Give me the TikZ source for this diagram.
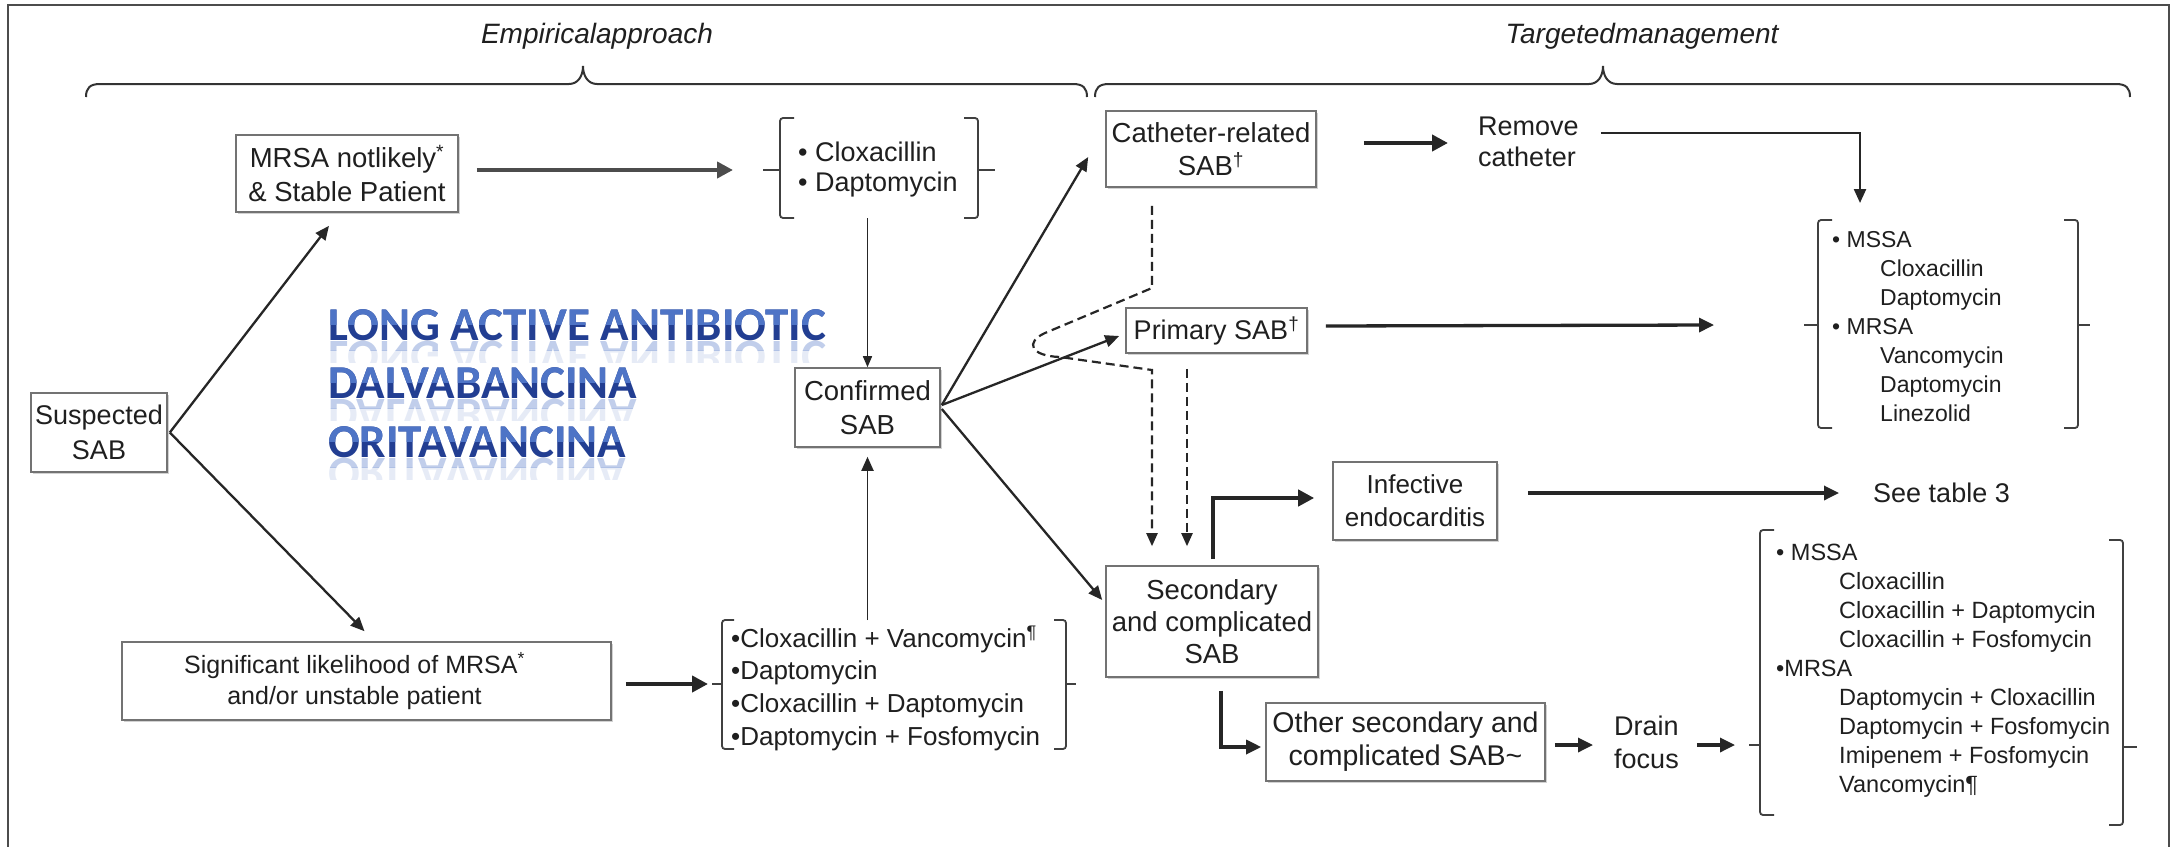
\documentclass[tikz,border=0pt]{standalone}
\usepackage{graphicx}
\usepackage{fontspec}
\setmainfont{Liberation Sans}
\newfontfamily\bannerfont{Carlito}
\usetikzlibrary{arrows.meta,calc,shadows}

\newcommand\txtsize[2]{\fontsize{#1}{#2}\selectfont}
\definecolor{bannerblue}{RGB}{34,62,146}
\definecolor{bannerlight}{RGB}{78,116,198}

\tikzset{
  box/.style={draw=black!55, line width=1.6pt, fill=white, inner sep=0pt,
    align=center, text=black!88,
    drop shadow={shadow xshift=1.5pt, shadow yshift=-2pt, fill=black!35, opacity=.5}},
  plain/.style={inner sep=0pt, text=black!88},
  head/.style={inner sep=0pt, text=black!88, font=\itshape\txtsize{28}{32}},
  arr/.style={draw=black!85, line width=2.3pt, -{Triangle[length=14pt,width=12pt]}},
  medarr/.style={draw=black!85, line width=3.3pt, -{Triangle[length=15pt,width=14pt]}},
  heavyarr/.style={draw=black!85, line width=4.6pt, -{Triangle[length=16pt,width=16pt]}},
  thinarr/.style={draw=black!85, line width=1.5pt, -{Triangle[length=11pt,width=9pt]}},
  dasharr/.style={draw=black!85, line width=2.2pt, dash pattern=on 9pt off 5pt,
    -{Triangle[length=13pt,width=11pt]}},
  brk/.style={draw=black!75, line width=1.8pt, rounded corners=3pt},
  brace/.style={draw=black!80, line width=2pt},
  listtxt/.style={inner sep=0pt, align=left, anchor=north west, text=black!88},
  banner/.style={inner sep=0pt, anchor=base west, font=\bannerfont\bfseries\txtsize{47}{47}},
}

% one line of the glossy blue banner, with a lighter upper half and a faded reflection
\newcommand\bannerline[3]{%
  \node[banner, text=bannerblue] (#1) at (328,#2) {#3};
  \begin{scope}
    \clip (320,#2-33) rectangle (900,#2-16);
    \node[banner, text=bannerlight] at (328,#2) {#3};
  \end{scope}
  \begin{scope}
    \clip (320,#2+1) rectangle (900,#2+10);
    \node[banner, text=bannerlight, opacity=.35] at (328,#2+1) {\scalebox{1}[-1]{#3}};
  \end{scope}
  \begin{scope}
    \clip (320,#2+10) rectangle (900,#2+22);
    \node[banner, text=bannerlight, opacity=.14] at (328,#2+1) {\scalebox{1}[-1]{#3}};
  \end{scope}
}

\begin{document}
\begin{tikzpicture}[x=1pt,y=-1pt]
\useasboundingbox (0,0) rectangle (2176,846);
\fill[white] (0,0) rectangle (2176,846);

% outer frame
\draw[draw=black!70, line width=2.5pt] (8,870) -- (8,5) -- (2169,5) -- (2169,870);

% section headings and braces
\node[head] (emp) at (597,36) {Empiricalapproach};
\node[head] (tar) at (1642,36) {Targetedmanagement};
\draw[brace] (86,97) .. controls (86,88) and (90,84) .. (100,84) -- (569,84)
  .. controls (578,84) and (583,76) .. (583,66)
  .. controls (583,76) and (588,84) .. (597,84) -- (1073,84)
  .. controls (1083,84) and (1087,88) .. (1087,97);
\draw[brace] (1095,97) .. controls (1095,88) and (1099,84) .. (1109,84) -- (1589,84)
  .. controls (1598,84) and (1603,76) .. (1603,66)
  .. controls (1603,76) and (1608,84) .. (1617,84) -- (2116,84)
  .. controls (2126,84) and (2130,88) .. (2130,97);

% boxes
\node[box, minimum width=136pt, minimum height=79pt, font=\txtsize{27}{35}] (susp) at (99,432.5) {Suspected\\SAB};
\node[box, minimum width=222pt, minimum height=77pt, font=\txtsize{27.5}{34}] (mrsa) at (347,173.5) {MRSA notlikely\textsuperscript{*}\\\& Stable Patient};
\node[box, minimum width=145pt, minimum height=79pt, font=\txtsize{27.5}{34}] (conf) at (867.5,407.5) {Confirmed\\SAB};
\node[box, minimum width=489pt, minimum height=78pt, font=\txtsize{25}{31}] (sig) at (366.5,681) {Significant likelihood of MRSA\textsuperscript{*}\hspace*{24pt}\\and/or unstable patient\hspace*{24pt}};
\node[box, minimum width=210pt, minimum height=76pt, font=\txtsize{27.5}{33}] (cath) at (1211,149) {Catheter-related\\SAB\textsuperscript{\textdagger}};
\node[box, minimum width=181pt, minimum height=45pt, font=\txtsize{27}{33}] (prim) at (1216.5,330.5) {Primary SAB\textsuperscript{\textdagger}};
\node[box, minimum width=164pt, minimum height=78pt, font=\txtsize{26}{33}] (inf) at (1415,501) {Infective\\endocarditis};
\node[box, minimum width=212pt, minimum height=111pt, font=\txtsize{27.5}{32}] (sec) at (1212,621.5) {Secondary\\and complicated\\SAB};
\node[box, minimum width=279pt, minimum height=78pt, font=\txtsize{28.5}{33}] (oth) at (1405.5,742) {Other secondary and\\complicated SAB\textasciitilde};

% free-standing labels
\node[plain, anchor=west, align=left, font=\txtsize{27}{31}] (remove) at (1478,142) {Remove\\catheter};
\node[plain, anchor=west, font=\txtsize{27}{31}] (see) at (1873,493) {See table 3};
\node[plain, anchor=west, align=left, font=\txtsize{27}{33}] (drain) at (1614,742) {Drain\\focus};

% banner
\bannerline{ban1}{340}{LONG ACTIVE ANTIBIOTIC}
\bannerline{ban2}{398}{DALVABANCINA}
\bannerline{ban3}{457}{ORITAVANCINA}

% treatment brackets
\draw[brk] (794,118) -- (780,118) -- (780,218) -- (794,218);
\draw[brk] (780,170) -- (763,170);
\draw[brk] (964,118) -- (978,118) -- (978,218) -- (964,218);
\draw[brk] (978,170) -- (995,170);
\coordinate (b1w) at (763,170);
\coordinate (b1s) at (867.5,218);
\node[listtxt, font=\txtsize{27}{30}] (list1) at (798,142) {• Cloxacillin\\• Daptomycin};

\draw[brk] (734,620) -- (722,620) -- (722,749) -- (734,749);
\draw[brk] (722,684) -- (712,684);
\draw[brk] (1054,620) -- (1066,620) -- (1066,749) -- (1054,749);
\draw[brk] (1066,684) -- (1076,684);
\coordinate (b2w) at (712,684);
\coordinate (b2n) at (867.5,620);
\node[listtxt, font=\txtsize{26}{32.6}] (list2) at (731,625.5) {•Cloxacillin + Vancomycin\textsuperscript{¶}\\•Daptomycin\\•Cloxacillin + Daptomycin\\•Daptomycin + Fosfomycin};

\draw[brk] (1832,220) -- (1818,220) -- (1818,428) -- (1832,428);
\draw[brk] (1818,325) -- (1804,325);
\draw[brk] (2064,220) -- (2078,220) -- (2078,428) -- (2064,428);
\draw[brk] (2078,325) -- (2090,325);
\coordinate (b3w) at (1804,325);
\coordinate (b3top) at (1860,220);
\node[listtxt, font=\txtsize{23}{29}] (list3) at (1832,231.7) {• MSSA\\\hspace*{48pt}Cloxacillin\\\hspace*{48pt}Daptomycin\\• MRSA\\\hspace*{48pt}Vancomycin\\\hspace*{48pt}Daptomycin\\\hspace*{48pt}Linezolid};

\draw[brk] (1774,530) -- (1760,530) -- (1760,815) -- (1774,815);
\draw[brk] (1760,745) -- (1749,745);
\draw[brk] (2109,540) -- (2123,540) -- (2123,825) -- (2109,825);
\draw[brk] (2123,747) -- (2137,747);
\coordinate (b4w) at (1749,745);
\node[listtxt, font=\txtsize{23.5}{29}] (list4) at (1776,543.5) {• MSSA\\\hspace*{63pt}Cloxacillin\\\hspace*{63pt}Cloxacillin + Daptomycin\\\hspace*{63pt}Cloxacillin + Fosfomycin\\•MRSA\\\hspace*{63pt}Daptomycin + Cloxacillin\\\hspace*{63pt}Daptomycin + Fosfomycin\\\hspace*{63pt}Imipenem + Fosfomycin\\\hspace*{63pt}Vancomycin¶};

% empirical branch
\draw[arr] ($(susp.east)+(2,0)$) -- ($(mrsa.south)+(-18,13)$);
\draw[arr] ($(susp.east)+(2,0)$) -- ($(sig.north)+(-2,-10)$);
\draw[heavyarr, draw=black!70] ($(mrsa.east)+(18,-3.5)$) -- ($(b1w)+(-30,0)$);
\draw[thinarr] (b1s) -- (conf.north);
\draw[arr, line width=1.9pt] (b2n) -- ($(conf.south)+(0,9)$);
\draw[heavyarr] ($(sig.east)+(14,3)$) -- ($(b2w)+(-4,0)$);

% targeted branch
\draw[arr] ($(conf.east)+(1,-2.5)$) -- ($(cath.west)+(-17,8)$);
\draw[arr] ($(conf.east)+(1,-2.5)$) -- ($(prim.west)+(-6,5.5)$);
\draw[arr] ($(conf.east)+(1,1.5)$) -- ($(sec.west)+(-3,-21.5)$);
\draw[heavyarr] ($(cath.east)+(47,-6)$) -- ($(remove.west)+(-30,1)$);
\draw[arr] ($(remove.east)+(22,-9)$) -| ($(b3top)+(0,-17)$);
\draw[medarr] ($(prim.east)+(18,-4.5)$) -- ($(b3w)+(-90,0)$);
\draw[dasharr] ($(cath.south)+(-59,18)$) -- (1152,288) -- (1045,333)
  .. controls (1025,342) and (1030,356) .. (1060,357) -- (1152,370)
  -- ($(sec.north)+(-60,-19)$);
\draw[dasharr] ($(prim.south)+(-29.5,15)$) -- ($(sec.north)+(-25,-19)$);
\draw[heavyarr] ($(sec.north)+(1,-6)$) |- ($(inf.west)+(-18,-3)$);
\draw[medarr] ($(inf.east)+(30,-8)$) -- ($(see.west)+(-34,0)$);
\draw[medarr] ($(sec.south)+(9,13)$) |- ($(oth.west)+(-4,5)$);
\draw[medarr] ($(oth.east)+(9,3)$) -- ($(drain.west)+(-21,3)$);
\draw[medarr] ($(drain.east)+(18,3)$) -- ($(b4w)+(-14,0)$);
\end{tikzpicture}
\end{document}
